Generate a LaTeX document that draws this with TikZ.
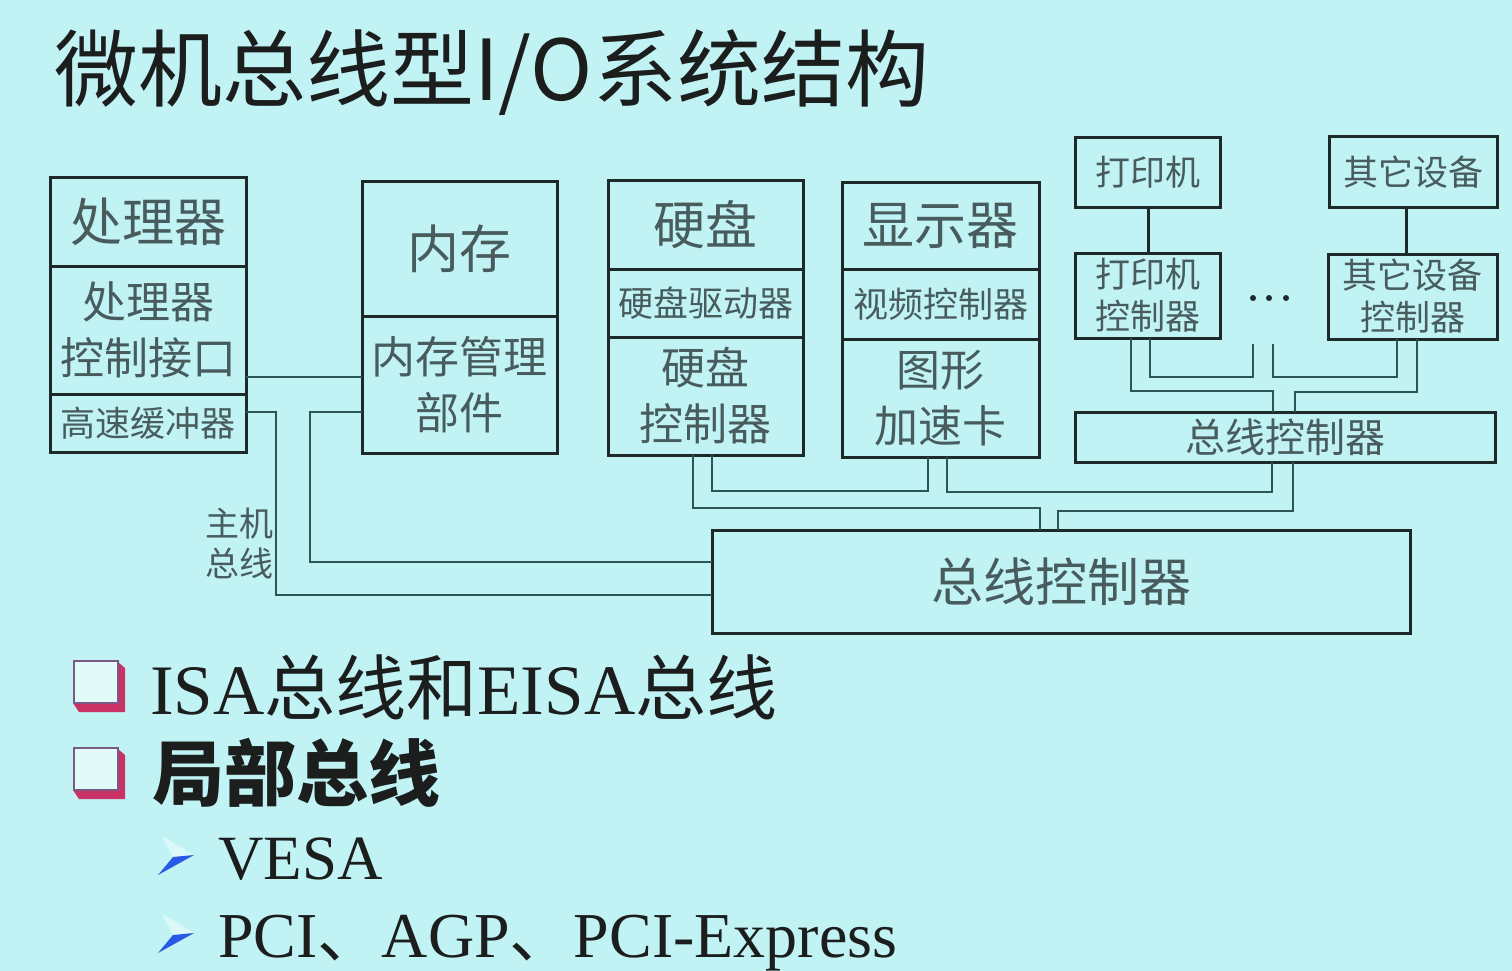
\documentclass[tikz,border=0pt]{standalone}
\usepackage{fontspec}
\setmainfont{Liberation Serif}
\newfontfamily\cjk{Noto Sans CJK SC}
\definecolor{bg}{RGB}{193,243,245}
\definecolor{boxline}{RGB}{30,42,42}
\definecolor{connline}{RGB}{45,85,88}
\definecolor{boxtext}{RGB}{72,92,94}
\definecolor{titletext}{RGB}{28,30,30}
\definecolor{crim}{RGB}{200,50,100}
\definecolor{sqedge}{RGB}{120,90,130}
\definecolor{arrowblue}{RGB}{40,90,230}
\begin{document}
\begin{tikzpicture}[x=1pt,y=-1pt,
  box/.style={draw=boxline, line width=3pt, anchor=north west, inner sep=0pt, outer sep=0pt, align=center, text=boxtext},
  bigtxt/.style={font=\cjk\fontsize{52}{60}\selectfont},
  midtxt/.style={font=\cjk\fontsize{44}{56}\selectfont},
  smalltxt/.style={font=\cjk\fontsize{35}{42}\selectfont},
  bustxt/.style={font=\cjk\fontsize{40}{48}\selectfont},
  conn/.style={draw=connline, line width=2pt},
  thickconn/.style={draw=boxline, line width=3pt},
  bodytxt/.style={anchor=base west, inner sep=0pt, text=titletext}
]
\useasboundingbox (0,0) rectangle (1512,971);
\fill[bg] (0,0) rectangle (1512,971);

% title
\node[anchor=west, inner sep=0pt, text=titletext, font=\cjk\fontsize{84}{92}\selectfont] (title) at (54,73) {微机总线型I/O系统结构};

% processor
\node[box, bigtxt, minimum width=196pt, minimum height=89pt] (proc1) at (50,177) {处理器};
\node[box, midtxt, minimum width=196pt, minimum height=128pt] (proc2) at (50,266) {处理器\\控制接口};
\node[box, smalltxt, minimum width=196pt, minimum height=58pt] (proc3) at (50,394) {高速缓冲器};
% memory
\node[box, bigtxt, minimum width=195pt, minimum height=135pt] (mem1) at (362,181) {内存};
\node[box, midtxt, minimum width=195pt, minimum height=137pt] (mem2) at (362,316) {内存管理\\部件};
% hard disk
\node[box, bigtxt, minimum width=195pt, minimum height=89pt] (hd1) at (608,180) {硬盘};
\node[box, smalltxt, minimum width=195pt, minimum height=68pt] (hd2) at (608,269) {硬盘驱动器};
\node[box, midtxt, minimum width=195pt, minimum height=118pt] (hd3) at (608,337) {硬盘\\控制器};
% display
\node[box, bigtxt, minimum width=197pt, minimum height=87pt] (dp1) at (842,182) {显示器};
\node[box, smalltxt, minimum width=197pt, minimum height=70pt] (dp2) at (842,269) {视频控制器};
\node[box, midtxt, minimum width=197pt, minimum height=118pt] (dp3) at (842,339) {图形\\加速卡};
% printer / other
\node[box, smalltxt, minimum width=145pt, minimum height=69pt] (pr) at (1075,138) {打印机};
\node[box, smalltxt, minimum width=168pt, minimum height=70pt] (od) at (1329,137) {其它设备};
\node[box, smalltxt, minimum width=145pt, minimum height=85pt] (prc) at (1075,253) {打印机\\控制器};
\node[box, smalltxt, minimum width=169pt, minimum height=85pt] (odc) at (1328,254) {其它设备\\控制器};
% bus controllers
\node[box, bustxt, minimum width=420pt, minimum height=50pt] (sbc) at (1075,412) {总线控制器};
\node[box, bigtxt, minimum width=698pt, minimum height=103pt] (mbc) at (712,530) {总线控制器};

% host bus label
\node[anchor=east, align=right, inner sep=0pt, text=boxtext, font=\cjk\fontsize{34}{40}\selectfont] (hostbus) at (274,544) {主机\\总线};

% dots
\foreach \xx in {1253,1269,1286} \fill[boxline] (\xx,298) circle (3);

% free ends
\coordinate (e1) at (1253,344);
\coordinate (e2) at (1273,344);

% connectors
\draw[conn] (proc2.east |- 0,377) -- (mem2.west |- 0,377);
\draw[conn] (proc3.east |- 0,412) -- (276,412) -- (276,595) -- (mbc.west |- 0,595);
\draw[conn] (mem2.west |- 0,412) -- (310,412) -- (310,562) -- (mbc.west |- 0,562);
\draw[conn] (hd3.south -| 693,0) -- (693,508) -- (1040,508) -- (mbc.north -| 1040,0);
\draw[conn] (hd3.south -| 712,0) -- (712,491) -- (928,491) -- (dp3.south -| 928,0);
\draw[conn] (dp3.south -| 947,0) -- (947,492) -- (1272,492) -- (sbc.south -| 1272,0);
\draw[conn] (sbc.south -| 1293,0) -- (1293,511) -- (1058,511) -- (mbc.north -| 1058,0);
\draw[thickconn] (pr.south -| 1148,0) -- (prc.north -| 1148,0);
\draw[thickconn] (od.south -| 1406,0) -- (odc.north -| 1406,0);
\draw[conn] (prc.south -| 1131,0) -- (1131,391) -- (1273,391) -- (sbc.north -| 1273,0);
\draw[conn] (prc.south -| 1150,0) -- (1150,377) -- (1253,377) -- (e1);
\draw[conn] (e2) -- (1273,377) -- (1397,377) -- (odc.south -| 1397,0);
\draw[conn] (odc.south -| 1417,0) -- (1417,392) -- (1295,392) -- (sbc.north -| 1295,0);

% square bullets
\foreach \yy in {0,87} {
  \fill[crim] (73,703+\yy) -- (118,703+\yy) -- (118,662+\yy) -- (125,668+\yy) -- (125,712+\yy) -- (79,712+\yy) -- cycle;
  \draw[draw=sqedge, line width=1.5pt, fill=white!55!bg] (74,661+\yy) rectangle (118,703+\yy);
}
% arrow bullets
\foreach \yy in {0,78} {
  \fill[white!45!bg] (162,836+\yy) -- (194,855+\yy) -- (173,857+\yy) -- cycle;
  \fill[arrowblue] (158,875+\yy) -- (194,855+\yy) -- (173,857+\yy) -- cycle;
}

% body text
\node[bodytxt, font=\fontsize{71}{78}\selectfont] (b1) at (150,714) {ISA{\cjk 总线和}EISA{\cjk 总线}};
\node[bodytxt, font=\cjk\bfseries\fontsize{72}{80}\selectfont] (b2) at (152,800) {局部总线};
\node[bodytxt, font=\fontsize{63}{70}\selectfont] (b3) at (218,879) {VESA};
\node[bodytxt, font=\fontsize{64}{70}\selectfont] (b4) at (218,957) {PCI{\cjk 、}AGP{\cjk 、}PCI-Express};
\end{tikzpicture}
\end{document}
